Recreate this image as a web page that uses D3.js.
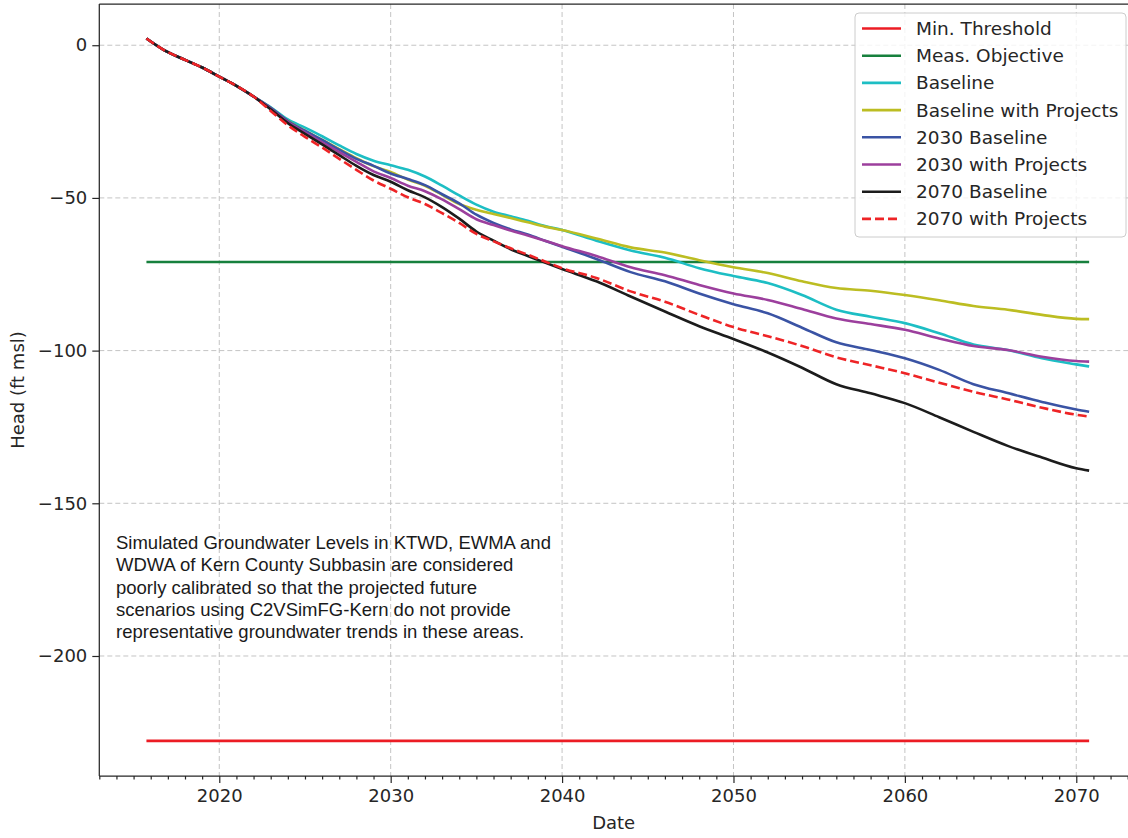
<!DOCTYPE html>
<html lang="en">
<head>
<meta charset="UTF-8">
<title>Head</title>
<script src="https://d3js.org/d3.v7.min.js"></script>
<style>
  html, body { margin: 0; background: #fff; overflow: hidden; }
  text { font-family: "DejaVu Sans", sans-serif; fill: #262626; }
  text.note { font-family: "Liberation Sans", Arial, sans-serif; fill: #1a1a1a; }
</style>
</head>
<body>
<svg id="svg"></svg>
<script>
// ---- data ----
const years = [2015.75, 2016.75, 2018, 2019, 2020, 2021, 2022, 2023, 2024, 2025, 2026, 2027, 2028, 2029,
  2030, 2031, 2032, 2033, 2034, 2035, 2036, 2037, 2038, 2039, 2040, 2042, 2044, 2046, 2048, 2050,
  2052, 2054, 2056, 2058, 2060, 2062, 2064, 2066, 2068, 2070, 2070.75];
const early = [2.2, -1.5, -4.8, -7.3, -10.3, -13.3, -16.8];

const baseline = early.concat([-20.3, -24.3, -27, -29.8, -32.8, -35.6, -37.8, -39.3, -40.8, -43, -46, -49.2,
  -52.2, -54.5, -56, -57.5, -59.2, -60.5, -64, -67.2, -69.6, -73, -75.6, -77.9, -81.8, -86.6, -88.9, -91,
  -94.3, -98, -99.8, -102.5, -104.5, -105.2]);
const baselineProj = early.concat([-20.6, -24.8, -28, -31, -34, -37, -39.6, -41.5, -44, -46, -49, -52,
  -53.9, -55.3, -56.6, -58, -59.4, -60.5, -63.3, -66.2, -67.9, -70.4, -72.7, -74.6, -77.3, -79.5, -80.4, -81.8,
  -83.5, -85.4, -86.6, -88.3, -89.6, -89.7]);
const base2030 = early.concat([-20.5, -24.8, -28, -31, -34.2, -37.2, -39.5, -42, -43.8, -45.8, -48.8, -51.8,
  -55.5, -58.2, -60.3, -62, -64, -66, -70, -74.3, -77.3, -81.3, -84.8, -87.8, -92.5, -97.3, -99.8, -102.5,
  -106.3, -111, -113.9, -116.8, -119.3, -120]);
const proj2030 = early.concat([-20.8, -25.2, -28.5, -31.8, -35, -38.2, -41.3, -43.5, -46, -47.8, -50.5, -53.7,
  -57, -58.9, -60.7, -62.3, -64, -65.8, -69, -72.7, -75.3, -78.5, -81.3, -83.4, -86.4, -89.5, -91.3, -93.2,
  -96, -98.5, -99.8, -102, -103.4, -103.6]);
const base2070 = early.concat([-21, -25.5, -29, -32.5, -36, -39.5, -42.5, -44.7, -47.5, -49.8, -53, -56.8,
  -61, -64, -66.8, -69, -71.2, -73.3, -77.3, -82.3, -87.2, -92, -96.2, -100.6, -105.6, -111, -114, -117.2,
  -121.8, -126.6, -131.2, -135, -138.5, -139.3]);
const proj2070 = early.concat([-21.5, -26.2, -30, -33.5, -37.2, -40.8, -44.3, -47, -49.8, -52, -55, -58.2,
  -61.8, -64.2, -66.5, -68.6, -70.8, -73, -76.2, -80.6, -84, -88.3, -92.3, -95.3, -98.5, -102.2, -104.8, -107.4,
  -110.5, -113.5, -116, -118.7, -121, -121.6]);

const minThreshold = -227.8;
const measObjective = -71.0;

const yTicks = [0, -50, -100, -150, -200];
const xTicks = [2020, 2030, 2040, 2050, 2060, 2070];

const series = [
  { name: 'Min. Threshold', color: '#ec1c24', values: years.map(() => minThreshold) },
  { name: 'Meas. Objective', color: '#17803d', values: years.map(() => measObjective) },
  { name: 'Baseline', color: '#1dbec4', values: baseline },
  { name: 'Baseline with Projects', color: '#bcbd22', values: baselineProj },
  { name: '2030 Baseline', color: '#3a53a4', values: base2030 },
  { name: '2030 with Projects', color: '#9c3f9d', values: proj2030 },
  { name: '2070 Baseline', color: '#1c1c1c', values: base2070 },
  { name: '2070 with Projects', color: '#ee2426', values: proj2070, dash: '9,4' }
];

const note = [
  'Simulated Groundwater Levels in KTWD, EWMA and',
  'WDWA of Kern County Subbasin are considered',
  'poorly calibrated so that the projected future',
  'scenarios using C2VSimFG-Kern do not provide',
  'representative groundwater trends in these areas.'
];

// ---- layout ----
const width = 1128, height = 838;
const svg = d3.select('#svg').attr('width', width).attr('height', height);
const plotLeft = 99.3, plotTop = 4, plotBottom = 776;

const x = d3.scaleLinear().domain([2013, 2073]).range([plotLeft, plotLeft + 60 * 17.14]);
const y = d3.scaleLinear().domain([-239.3, 13.5]).range([plotBottom, plotTop]);

// grid
const grid = svg.append('g').attr('stroke', '#c4c4c4').attr('stroke-width', 1).attr('stroke-dasharray', '5,3');
grid.selectAll('.gx').data(xTicks).join('line')
  .attr('x1', d => x(d)).attr('x2', d => x(d)).attr('y1', plotTop).attr('y2', plotBottom);
grid.selectAll('.gy').data(yTicks).join('line')
  .attr('x1', plotLeft).attr('x2', width).attr('y1', d => y(d)).attr('y2', d => y(d));

// series lines
const line = d3.line().x(d => x(d[0])).y(d => y(d[1])).curve(d3.curveMonotoneX);
svg.append('g').selectAll('path').data(series).join('path')
  .attr('d', s => line(years.map((yr, i) => [yr, s.values[i]])))
  .attr('fill', 'none')
  .attr('stroke', s => s.color)
  .attr('stroke-width', 2.6)
  .attr('stroke-dasharray', s => s.dash || null);

// axes
const fmt = d => d < 0 ? '\u2212' + Math.abs(d) : String(d);
const xAxis = svg.append('g').attr('transform', `translate(0,${plotBottom})`)
  .call(d3.axisBottom(x).tickValues(xTicks).tickFormat(d3.format('d')).tickSize(7).tickPadding(6));
const xMinor = svg.append('g').attr('transform', `translate(0,${plotBottom})`)
  .call(d3.axisBottom(x).tickValues(d3.range(2013, 2074).filter(v => v % 10 !== 0)).tickSize(3.5).tickFormat(''));
const yAxis = svg.append('g').attr('transform', `translate(${plotLeft},0)`)
  .call(d3.axisLeft(y).tickValues(yTicks).tickFormat(fmt).tickSize(7).tickPadding(5));
xMinor.select('.domain').remove();
[xAxis, yAxis, xMinor].forEach(a => {
  a.selectAll('line').attr('stroke', '#262626').attr('stroke-width', 1.2);
  a.selectAll('.domain').attr('stroke', '#262626').attr('stroke-width', 1.25);
  a.selectAll('text').attr('font-size', 18).attr('fill', '#262626');
});
xAxis.select('.domain').attr('d', `M${plotLeft},0H${width}`);
yAxis.select('.domain').attr('d', `M0,${plotTop}V${plotBottom}`);
// top spine
svg.append('line').attr('x1', plotLeft).attr('x2', width).attr('y1', plotTop).attr('y2', plotTop)
  .attr('stroke', '#262626').attr('stroke-width', 1.25);

// axis labels
svg.append('text').attr('x', (plotLeft + width) / 2).attr('y', 829).attr('text-anchor', 'middle')
  .attr('font-size', 18).text('Date');
svg.append('text').attr('transform', `translate(24,${(plotTop + plotBottom) / 2}) rotate(-90)`)
  .attr('text-anchor', 'middle').attr('font-size', 18).text('Head (ft msl)');

// note
svg.append('text').attr('class', 'note').attr('font-size', 18.5)
  .selectAll('tspan').data(note).join('tspan')
  .attr('x', 116).attr('y', (d, i) => 549 + i * 22.3).text(d => d);

// legend
const lg = svg.append('g');
lg.append('rect').attr('x', 855).attr('y', 13).attr('width', 271).attr('height', 224).attr('rx', 4)
  .attr('fill', '#fff').attr('fill-opacity', 0.8).attr('stroke', '#cccccc').attr('stroke-width', 1);
const items = lg.selectAll('.item').data(series).join('g').attr('class', 'item')
  .attr('transform', (d, i) => `translate(0,${28.5 + i * 27.2})`);
items.append('line').attr('x1', 862).attr('x2', 901)
  .attr('stroke', d => d.color).attr('stroke-width', 2.6).attr('stroke-dasharray', d => d.dash || null);
items.append('text').attr('x', 916).attr('dy', '0.35em').attr('font-size', 18.5).text(d => d.name);
</script>
</body>
</html>
